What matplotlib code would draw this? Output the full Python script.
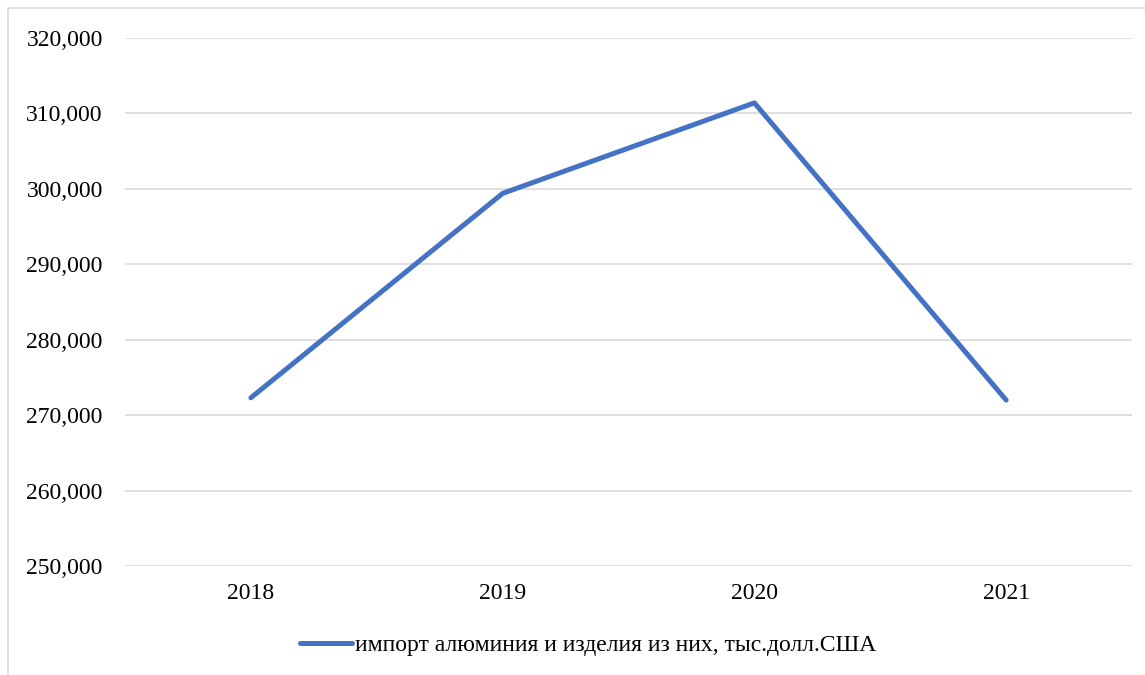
import matplotlib.pyplot as plt
from matplotlib.patches import Rectangle
from matplotlib.lines import Line2D
from matplotlib.ticker import FuncFormatter

years = ['2018', '2019', '2020', '2021']
imports = [272300, 299400, 311400, 272000]
series_name = 'импорт алюминия и изделия из них, тыс.долл.США'

plt.rcParams['font.family'] = ['Liberation Serif', 'DejaVu Serif']

W, H = 1145, 675
fig = plt.figure(figsize=(W / 100, H / 100), dpi=100)
ax = fig.add_axes((125 / W, 1 - 566 / H, (1132 - 125) / W, (566 - 38) / H))

# chart frame (cut at the right and bottom in the reference)
fig.patches.append(Rectangle((8 / W, -0.2), 1.2, 1.2 - 8 / H,
                             transform=fig.transFigure, fill=False,
                             edgecolor='#d9d9d9', lw=1.2))

x = range(len(years))
ax.plot(x, imports, color='#4472C4', lw=3.6, solid_capstyle='round')

ax.set_xlim(-0.5, len(years) - 0.5)
ax.set_ylim(250000, 320000)
ax.set_yticks(range(250000, 320001, 10000))
ax.yaxis.set_major_formatter(FuncFormatter(lambda v, p: f'{int(v):,}'))
ax.set_xticks(list(x))
ax.set_xticklabels(years)
ax.tick_params(axis='both', length=0, labelsize=17, colors='#000000')
ax.tick_params(axis='y', pad=16)
ax.tick_params(axis='x', pad=12)
ax.grid(axis='y', color='#d9d9d9', lw=1.2)
ax.set_axisbelow(True)
for s in ax.spines.values():
    s.set_visible(False)

handle = Line2D([], [], color='#4472C4', lw=3.6, solid_capstyle='round')
fig.legend([handle], [series_name], loc='center', bbox_to_anchor=(588 / W, 1 - 645 / H),
           frameon=False, fontsize=17, handlelength=2.2, handletextpad=0.1)

fig.savefig('out.png', dpi=100)
